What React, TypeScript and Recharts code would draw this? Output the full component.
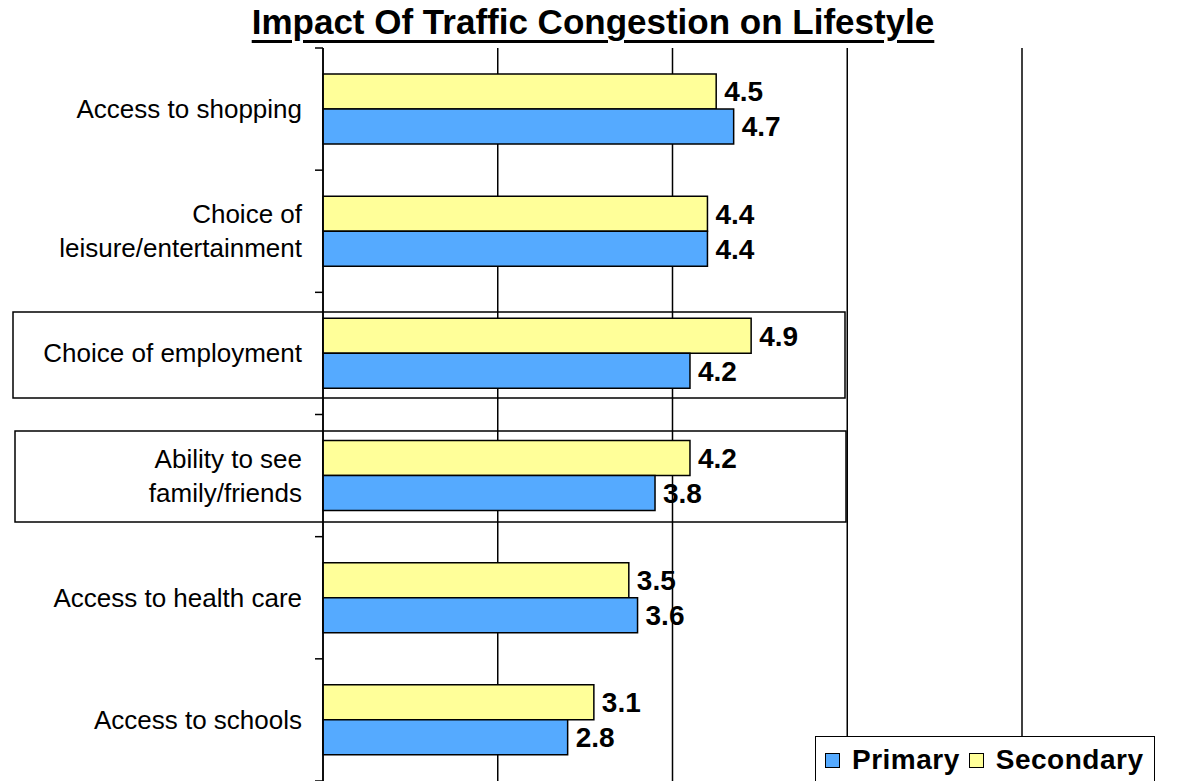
import React from 'react';
import { BarChart, Bar, XAxis, YAxis, CartesianGrid, LabelList } from 'recharts';

const categories = [
    'Access to shopping',
    'Choice of\nleisure/entertainment',
    'Choice of employment',
    'Ability to see\nfamily/friends',
    'Access to health care',
    'Access to schools',
];
const primaryValues = [4.7, 4.4, 4.2, 3.8, 3.6, 2.8];
const secondaryValues = [4.5, 4.4, 4.9, 4.2, 3.5, 3.1];
const xTicks = [0, 2, 4, 6, 8];

const series = [
    { key: 'primary', name: 'Primary', color: '#55AAFF' },
    { key: 'secondary', name: 'Secondary', color: '#FFFF99' },
];

const data = categories.map((name, i) => ({
    name,
    primary: primaryValues[i],
    secondary: secondaryValues[i],
}));

const W = 1192;
const H = 781;
const MARGIN = { top: 48, right: 170, left: 0, bottom: 0 };
const AXIS_W = 323;
const BAND = (H - MARGIN.top - MARGIN.bottom) / categories.length;

const CategoryTick = (props: any) => {
    const { y, payload, index } = props;
    const lines = String(payload.value).split('\n');
    const axisX = MARGIN.left + AXIS_W;
    return (
        <g>
            <line x1={axisX - 8} x2={axisX} y1={y - BAND / 2} y2={y - BAND / 2} stroke="#000" strokeWidth={1.5} />
            {index === categories.length - 1 && (
                <line x1={axisX - 8} x2={axisX} y1={y + BAND / 2} y2={y + BAND / 2} stroke="#000" strokeWidth={1.5} />
            )}
            <text textAnchor="end" fontSize={26} fill="#000">
                {lines.map((ln, i) => (
                    <tspan key={i} x={axisX - 21} y={y + 9 + (i - (lines.length - 1) / 2) * 34}>
                        {ln}
                    </tspan>
                ))}
            </text>
        </g>
    );
};

const App: React.FC = () => {
    return (
        <div
            style={{
                position: 'absolute',
                left: 0,
                top: 0,
                width: W,
                height: H,
                overflow: 'hidden',
                background: '#fff',
                fontFamily: '"Liberation Sans", Arial, sans-serif',
            }}
        >
            <div
                style={{
                    position: 'absolute',
                    left: -3,
                    top: 5,
                    width: W,
                    textAlign: 'center',
                    fontSize: 35,
                    lineHeight: '33px',
                    fontWeight: 'bold',
                    textDecoration: 'underline',
                    textDecorationThickness: 3,
                    textUnderlineOffset: 6,
                }}
            >
                Impact Of Traffic Congestion on Lifestyle
            </div>
            <BarChart
                width={W}
                height={H}
                data={data}
                layout="vertical"
                margin={MARGIN}
                barCategoryGap={26}
                barGap={0}
            >
                <CartesianGrid horizontal={false} stroke="#000" strokeWidth={1.5} />
                <XAxis type="number" domain={[0, 8]} ticks={xTicks} hide />
                <YAxis
                    type="category"
                    dataKey="name"
                    width={AXIS_W}
                    axisLine={{ stroke: '#000', strokeWidth: 1.5 }}
                    tickLine={false}
                    tick={<CategoryTick />}
                    interval={0}
                />
                <Bar dataKey="secondary" name="Secondary" fill="#FFFF99" stroke="#000" strokeWidth={1.5} isAnimationActive={false}>
                    <LabelList dataKey="secondary" position="right" offset={8} fill="#000" fontSize={28} fontWeight="bold" />
                </Bar>
                <Bar dataKey="primary" name="Primary" fill="#55AAFF" stroke="#000" strokeWidth={1.5} isAnimationActive={false}>
                    <LabelList dataKey="primary" position="right" offset={8} fill="#000" fontSize={28} fontWeight="bold" />
                </Bar>
            </BarChart>
            {/* highlight boxes */}
            <svg width={W} height={H} style={{ position: 'absolute', left: 0, top: 0, pointerEvents: 'none' }}>
                <rect x={13} y={312} width={832} height={86} fill="none" stroke="#000" strokeWidth={1.5} />
                <rect x={15} y={431} width={831} height={91} fill="none" stroke="#000" strokeWidth={1.5} />
            </svg>
            {/* legend */}
            <div
                style={{
                    position: 'absolute',
                    left: 815,
                    top: 736,
                    width: 340,
                    height: 60,
                    boxSizing: 'border-box',
                    border: '1.5px solid #000',
                    background: '#fff',
                    display: 'flex',
                    alignItems: 'flex-start',
                    paddingTop: 8,
                    paddingLeft: 9,
                    fontSize: 28,
                    lineHeight: '30px',
                    fontWeight: 'bold',
                }}
            >
                {series.map((s) => (
                    <div key={s.key} style={{ display: 'flex', alignItems: 'center', marginRight: 9 }}>
                        <span
                            style={{
                                display: 'inline-block',
                                width: 13,
                                height: 13,
                                background: s.color,
                                border: '1.5px solid #000',
                                marginRight: 12,
                            }}
                        />
                        <span style={{ letterSpacing: 0.5 }}>{s.name}</span>
                    </div>
                ))}
            </div>
        </div>
    );
};

export default App;
